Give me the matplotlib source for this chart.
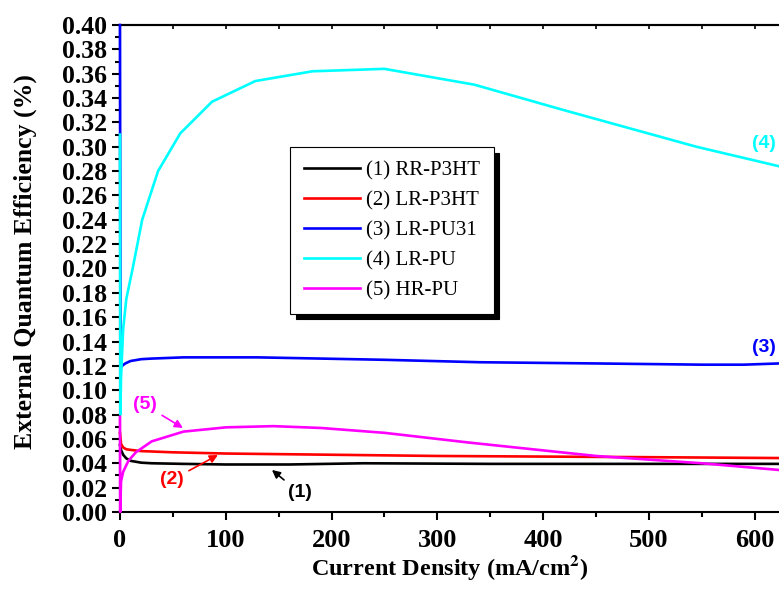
import matplotlib
matplotlib.use("Agg")
import matplotlib.pyplot as plt
from matplotlib.ticker import MultipleLocator

plt.rcParams["mathtext.fontset"] = "stix"

# Data
rr_p3ht_x = [0, 1, 3, 6, 10, 20, 30, 60, 100, 160, 230, 350, 500, 623]
rr_p3ht_y = [0.055, 0.051, 0.047, 0.044, 0.042, 0.0405, 0.040, 0.0395, 0.039, 0.039, 0.040, 0.0395, 0.0395, 0.0395]

lr_p3ht_x = [0, 1, 3, 6, 10, 20, 50, 100, 200, 300, 400, 500, 623]
lr_p3ht_y = [0.065, 0.056, 0.053, 0.0515, 0.051, 0.050, 0.049, 0.048, 0.047, 0.046, 0.0455, 0.045, 0.0443]

lr_pu31_x = [0, 0.5, 2, 5, 10, 20, 30, 60, 130, 250, 340, 450, 550, 590, 623]
lr_pu31_y = [0.40, 0.118, 0.12, 0.122, 0.124, 0.1255, 0.126, 0.127, 0.127, 0.125, 0.123, 0.122, 0.121, 0.121, 0.122]

lr_pu_x = [0, 0.3, 1, 3, 6, 12, 21, 36, 57, 87, 128, 182, 250, 335, 420, 545, 623]
lr_pu_y = [0.31, 0.08, 0.11, 0.15, 0.175, 0.20, 0.24, 0.28, 0.311, 0.337, 0.354, 0.362, 0.364, 0.351, 0.33, 0.30, 0.284]

hr_pu_x = [0, 0.2, 1, 3, 8, 15, 30, 60, 100, 145, 190, 250, 330, 450, 550, 623]
hr_pu_y = [0.078, 0.0, 0.025, 0.033, 0.042, 0.049, 0.058, 0.066, 0.0695, 0.0705, 0.069, 0.065, 0.057, 0.046, 0.040, 0.0345]

labels = ["(1) RR-P3HT", "(2) LR-P3HT", "(3) LR-PU31", "(4) LR-PU", "(5) HR-PU"]
colors = ["black", "red", "blue", "cyan", "magenta"]

serif = "Liberation Serif"
sans = "Liberation Sans"

fig = plt.figure(figsize=(7.79, 5.96), dpi=100)
ax = fig.add_axes([0.154, 0.141, 0.846, 0.817])

series = [(rr_p3ht_x, rr_p3ht_y), (lr_p3ht_x, lr_p3ht_y), (lr_pu31_x, lr_pu31_y),
          (lr_pu_x, lr_pu_y), (hr_pu_x, hr_pu_y)]
for (x, y), lab, c in zip(series, labels, colors):
    ax.plot(x, y, color=c, lw=1.9, label=lab, clip_on=False, zorder=3)

ax.set_xlim(0, 623)
ax.set_ylim(0, 0.40)
ax.spines["right"].set_visible(False)
for s in ["left", "bottom", "top"]:
    ax.spines[s].set_linewidth(1.5)

ax.xaxis.set_major_locator(MultipleLocator(100))
ax.xaxis.set_minor_locator(MultipleLocator(50))
ax.yaxis.set_major_locator(MultipleLocator(0.02))
ax.yaxis.set_minor_locator(MultipleLocator(0.01))
ax.tick_params(axis="both", which="major", direction="out", length=6, width=1.5)
ax.tick_params(axis="both", which="minor", direction="out", length=3.5, width=1.5)
ax.tick_params(axis="x", which="major", pad=6)

# top axis: small inward ticks, no labels
top = ax.secondary_xaxis("top")
top.xaxis.set_major_locator(MultipleLocator(50))
top.tick_params(direction="in", length=3, width=1.2, labeltop=False)
top.spines["top"].set_linewidth(1.5)

ax.set_yticks([i * 0.02 for i in range(21)])
ax.set_yticklabels(["%.2f" % (i * 0.02) for i in range(21)])
for t in ax.get_xticklabels():
    t.set_fontfamily(serif)
    t.set_fontweight("bold")
    t.set_fontsize(19)
for t in ax.get_yticklabels():
    t.set_fontfamily(serif)
    t.set_fontweight("bold")
    t.set_fontsize(18.5)

ax.set_xlabel("Current Density (mA/cm$^\\mathbf{2}$)", fontfamily=serif, fontweight="bold", fontsize=17.5)
ax.set_ylabel("External Quantum Efficiency (%)", fontfamily=serif, fontweight="bold", fontsize=18.5)
ax.xaxis.set_label_coords(0.5008, -0.084)
ax.yaxis.set_label_coords(-0.126, 0.515)

leg = ax.legend(loc="upper left", bbox_to_anchor=(0.258, 0.749), borderaxespad=0,
                prop={"family": serif, "size": 15}, handlelength=2.7, handletextpad=0.3,
                fancybox=False, edgecolor="black", framealpha=1,
                shadow={"ox": 4, "oy": -4, "color": "black", "alpha": 1},
                labelspacing=0.5, borderpad=0.65)
leg.get_frame().set_linewidth(0.8)

ann_font = dict(fontfamily=sans, fontweight="bold", fontsize=14)
arrow = dict(arrowstyle="-|>", lw=1.2, mutation_scale=12, shrinkA=2, shrinkB=0)
ax.text(609, 0.303, "(4)", color="cyan", ha="center", va="center", **ann_font)
ax.text(609, 0.1347, "(3)", color="blue", ha="center", va="center", **ann_font)
ax.annotate("(5)", xy=(59.5, 0.069), xytext=(23.6, 0.0879), color="magenta",
            ha="center", va="center", arrowprops=dict(color="magenta", **arrow), **ann_font)
ax.annotate("(2)", xy=(92.6, 0.0468), xytext=(49, 0.0263), color="red",
            ha="center", va="center", arrowprops=dict(color="red", **arrow), **ann_font)
ax.annotate("(1)", xy=(143.7, 0.0345), xytext=(170, 0.0156), color="black",
            ha="center", va="center", arrowprops=dict(color="black", **arrow), **ann_font)

fig.savefig("out.png", dpi=100)
